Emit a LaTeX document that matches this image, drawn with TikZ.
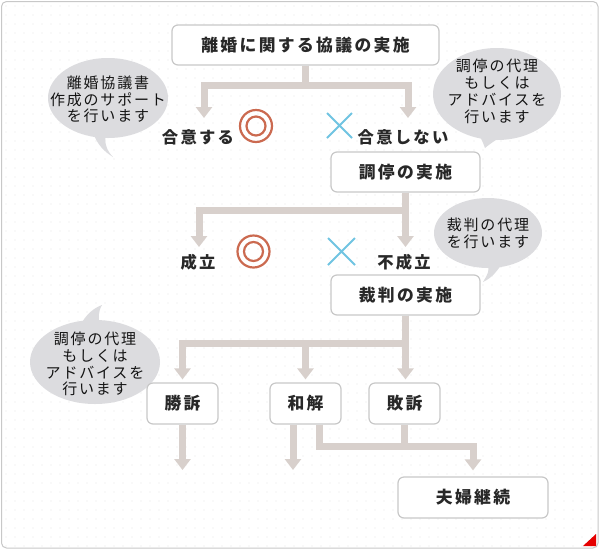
\documentclass[tikz,border=0pt]{standalone}
\usepackage{fontspec}
\setmainfont{Noto Sans CJK JP}
\newfontfamily\jpbox[LetterSpace=14]{Noto Sans CJK JP}
\newfontfamily\jpbub[LetterSpace=12]{Noto Sans CJK JP}
\usetikzlibrary{arrows.meta}
\definecolor{flowc}{RGB}{216,208,204}
\definecolor{boxline}{RGB}{200,200,200}
\definecolor{bub}{RGB}{220,220,223}
\definecolor{txt}{RGB}{40,40,40}
\definecolor{bubtxt}{RGB}{20,20,20}
\definecolor{okc}{RGB}{203,106,80}
\definecolor{ngc}{RGB}{112,196,226}
\definecolor{dotc}{RGB}{230,230,230}
\definecolor{framec}{RGB}{200,200,200}
\newcommand\bxfnt{\jpbox\bfseries\fontsize{16.8}{20}\selectfont}
\newcommand\lbfnt{\jpbox\bfseries\fontsize{16.3}{20}\selectfont}
\newcommand\bbfnt{\jpbub\fontsize{15}{16.8}\selectfont}
\begin{document}
\begin{tikzpicture}[x=1pt,y=-1pt,
  box/.style={draw=boxline,line width=1.2pt,fill=white,rounded corners=6pt,minimum height=40pt,inner sep=0pt,font=\bxfnt,text=txt},
  flow/.style={draw=flowc,line width=7pt,-{Triangle[width=16pt,length=11pt]}},
  plain/.style={draw=flowc,line width=7pt},
  lbl/.style={font=\lbfnt,text=txt,inner sep=0pt},
  bubtext/.style={font=\bbfnt,text=bubtxt,align=center,inner sep=0pt},
  okmark/.style={draw=okc,line width=2.2pt},
  ngmark/.style={draw=ngc,line width=2pt}]
\useasboundingbox (0,0) rectangle (600,550);
% frame and dotted background
\draw[framec,line width=1pt,rounded corners=5pt,fill=white] (1.5,1.5) rectangle (598,548);
\begin{scope}
\clip (2,2) rectangle (597.5,547.5);
\foreach \i in {0,...,65} {\foreach \j in {0,...,60} {\fill[dotc] (\i*9+6,\j*9+6) circle (0.7pt);}}
\end{scope}
\fill[red!90!black] (583,546) -- (596,546) -- (596,534) -- cycle;

% bubbles
\fill[bub] (108,98) ellipse [x radius=60pt, y radius=40pt];
\fill[bub] (93,132) .. controls (97,145) and (105,152) .. (113,157) .. controls (106,150) and (104,142) .. (106,132) -- cycle;
\fill[bub] (497,94) ellipse [x radius=64pt, y radius=46pt];
\fill[bub] (478,134) .. controls (482,140) .. (485,148) .. controls (492,142) and (498,139) .. (505,134) -- cycle;
\fill[bub] (488,233) ellipse [x radius=54pt, y radius=35pt];
\fill[bub] (488,262) .. controls (489,272) .. (483,282) .. controls (492,278) and (498,270) .. (503,262) -- cycle;
\fill[bub] (95,362) ellipse [x radius=65pt, y radius=42pt];
\fill[bub] (80,326) .. controls (86,314) and (94,308) .. (102,305) .. controls (98,312) and (98,318) .. (100,326) -- cycle;
\node[bubtext] (b1) at (108,99.5) {離婚協議書\\作成のサポート\\を行います};
\node[bubtext] (b2) at (497,91.5) {調停の代理\\もしくは\\アドバイスを\\行います};
\node[bubtext] (b3) at (488,233) {裁判の代理\\を行います};
\node[bubtext] (b4) at (95,364) {調停の代理\\もしくは\\アドバイスを\\行います};

% boxes
\node[box,minimum width=267pt] (top) at (305.5,45) {離婚に関する協議の実施};
\node[box,minimum width=149pt] (chotei) at (405.5,172) {調停の実施};
\node[box,minimum width=149pt] (saiban) at (405.5,295) {裁判の実施};
\node[box,minimum width=71pt,minimum height=41pt] (win) at (182.5,403.5) {勝訴};
\node[box,minimum width=71pt,minimum height=41pt] (wakai) at (305.5,403.5) {和解};
\node[box,minimum width=71pt,minimum height=41pt] (lose) at (404.5,403.5) {敗訴};
\node[box,minimum width=150pt,minimum height=41pt] (fufu) at (473,497.5) {夫婦継続};

% labels
\node[lbl] (agree) at (198,137) {合意する};
\node[lbl] (disagree) at (403,137) {合意しない};
\node[lbl] (seiritsu) at (198,262) {成立};
\node[lbl] (fuseiritsu) at (404,262) {不成立};

% marks
\draw[okmark] (256,126) circle (16pt) (256,126) circle (9.5pt);
\draw[okmark] (253.5,251.5) circle (16pt) (253.5,251.5) circle (9.5pt);
\draw[ngmark] (327,113) -- (352,138) (327,138) -- (352,113);
\draw[ngmark] (328,238) -- (355,265) (328,265) -- (355,238);

% connectors
\coordinate (t1) at (204,118);
\coordinate (t2) at (408,118);
\coordinate (t3) at (199,247);
\coordinate (t4) at (405.5,247);
\coordinate (e1) at (182.5,470);
\coordinate (e2) at (293,470);
\draw[flow] (top.south) -- ++(0,20) -| (t1);
\draw[flow] (top.south) -- ++(0,20) -| (t2);
\draw[flow] (chotei.south) -- ++(0,18) -| (t3);
\draw[flow] (chotei.south) -- (t4);
\draw[flow,shorten >=3pt] (saiban.south) -- ++(0,28) -| (win.north);
\draw[flow,shorten >=3pt] (saiban.south) -- ++(0,28) -| (wakai.north);
\draw[flow,shorten >=3pt] (saiban.south) -- (saiban.south |- lose.north);
\draw[flow] (win.south) -- (e1);
\draw[flow] (wakai.south -| e2) -- (e2);
\draw[flow,shorten >=6pt] ([xshift=13.5pt]wakai.south) -- ++(0,21.5) -| (fufu.north);
\draw[plain] (lose.south) -- ++(0,21.5);
\end{tikzpicture}
\end{document}
